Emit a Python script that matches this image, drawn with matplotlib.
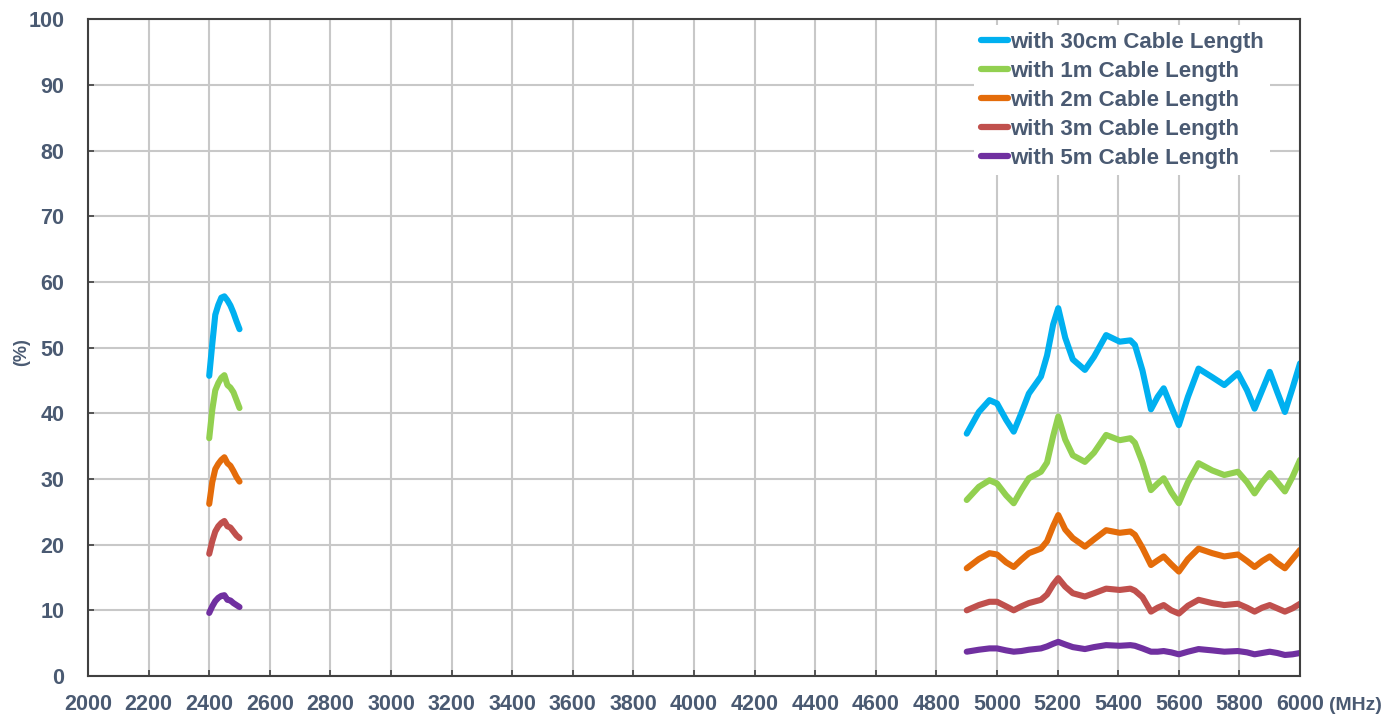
import numpy as np
import matplotlib.pyplot as plt

# Frequencies (MHz) for the 2.4 GHz band and the 5 GHz band
freq_24 = [2400, 2410, 2420, 2430, 2440, 2450, 2460, 2470, 2480, 2490, 2500]
freq_5 = [4900, 4940, 4975, 5000, 5030, 5055, 5080, 5105, 5145, 5165, 5185, 5202,
          5225, 5250, 5290, 5320, 5360, 5405, 5440, 5455, 5480, 5508, 5530, 5550,
          5575, 5600, 5630, 5665, 5710, 5750, 5795, 5825, 5850, 5875, 5900, 5925,
          5950, 5975, 6000]

# Efficiency (%) per cable length
cab30_24 = [45.7, 50.5, 55.0, 56.5, 57.6, 57.8, 57.2, 56.4, 55.3, 54.0, 52.8]
cab1_24 = [36.2, 40.5, 43.5, 44.6, 45.4, 45.8, 44.3, 43.9, 43.2, 42.0, 40.8]
cab2_24 = [26.2, 29.5, 31.5, 32.3, 32.9, 33.3, 32.4, 32.0, 31.2, 30.3, 29.6]
cab3_24 = [18.6, 20.5, 22.0, 22.8, 23.3, 23.6, 22.8, 22.6, 22.0, 21.4, 21.0]
cab5_24 = [9.6, 10.6, 11.4, 11.9, 12.2, 12.3, 11.6, 11.5, 11.1, 10.8, 10.5]

cab30_5 = [36.9, 40.2, 42.0, 41.5, 39.0, 37.2, 40.0, 43.0, 45.6, 48.8, 53.5, 56.0,
           51.5, 48.2, 46.6, 48.6, 51.9, 50.9, 51.1, 50.4, 46.5, 40.6, 42.5, 43.8,
           41.0, 38.2, 42.5, 46.8, 45.5, 44.3, 46.1, 43.5, 40.7, 43.5, 46.3, 43.2,
           40.2, 43.8, 47.6]
cab1_5 = [26.8, 28.8, 29.8, 29.3, 27.5, 26.3, 28.3, 30.1, 31.1, 32.5, 36.5, 39.5,
          36.0, 33.6, 32.6, 34.0, 36.7, 35.9, 36.2, 35.5, 32.5, 28.3, 29.3, 30.1,
          28.0, 26.3, 29.5, 32.4, 31.3, 30.6, 31.1, 29.5, 27.8, 29.5, 30.9, 29.5,
          28.1, 30.3, 32.9]
cab2_5 = [16.4, 17.8, 18.7, 18.5, 17.3, 16.6, 17.7, 18.7, 19.4, 20.5, 22.8, 24.5,
          22.3, 21.0, 19.7, 20.8, 22.2, 21.8, 22.0, 21.5, 19.5, 16.9, 17.6, 18.2,
          17.0, 15.9, 17.8, 19.4, 18.7, 18.2, 18.5, 17.5, 16.6, 17.5, 18.2, 17.2,
          16.4, 17.8, 19.2]
cab3_5 = [10.0, 10.8, 11.3, 11.3, 10.6, 10.0, 10.6, 11.1, 11.6, 12.4, 13.9, 14.9,
          13.6, 12.6, 12.1, 12.6, 13.3, 13.1, 13.3, 13.0, 12.0, 9.8, 10.4, 10.8,
          10.0, 9.5, 10.7, 11.6, 11.1, 10.8, 11.0, 10.4, 9.8, 10.4, 10.8, 10.3,
          9.8, 10.3, 11.0]
cab5_5 = [3.7, 4.0, 4.2, 4.2, 3.9, 3.7, 3.8, 4.0, 4.2, 4.5, 4.9, 5.2,
          4.8, 4.4, 4.1, 4.4, 4.7, 4.6, 4.7, 4.6, 4.2, 3.7, 3.7, 3.8,
          3.6, 3.3, 3.7, 4.1, 3.9, 3.7, 3.8, 3.6, 3.3, 3.5, 3.7, 3.5,
          3.2, 3.3, 3.5]

labels = ['with 30cm Cable Length', 'with 1m Cable Length', 'with 2m Cable Length',
          'with 3m Cable Length', 'with 5m Cable Length']
colors = ['#00B0F0', '#92D050', '#E46C0A', '#C0504D', '#7030A0']

series_24 = [cab30_24, cab1_24, cab2_24, cab3_24, cab5_24]
series_5 = [cab30_5, cab1_5, cab2_5, cab3_5, cab5_5]

txt_color = '#4A5A72'
font = ['Liberation Sans', 'DejaVu Sans']

fig = plt.figure(figsize=(13.97, 7.18), dpi=100)
ax = fig.add_axes([0.063, 0.0585, 0.8676, 0.9148])

for lab, col, y24, y5 in zip(labels, colors, series_24, series_5):
    ax.plot(freq_24, y24, color=col, lw=4.4, solid_capstyle='round',
            solid_joinstyle='round', label=lab)
    ax.plot(freq_5, y5, color=col, lw=4.4, solid_capstyle='round',
            solid_joinstyle='round')

ax.set_xlim(2000, 6000)
ax.set_ylim(0, 100)
ax.set_xticks(np.arange(2000, 6001, 200))
ax.set_yticks(np.arange(0, 101, 10))
ax.grid(True, color='#C8C8C8', lw=1.5)
ax.set_axisbelow(True)

for sp in ax.spines.values():
    sp.set_color('#404040')
    sp.set_linewidth(1.5)

ax.tick_params(axis='both', direction='in', length=4, width=1.2, color='#404040',
               labelcolor=txt_color)
ax.tick_params(axis='x', pad=13)
ax.tick_params(axis='y', pad=17)
for t in ax.get_xticklabels() + ax.get_yticklabels():
    t.set_family(font)
    t.set_fontweight('bold')
    t.set_fontsize(15.5)

fig.text(0.0155, 0.51, '(%)', rotation=90, ha='center', va='center',
         family=font, fontweight='bold', fontsize=13, color=txt_color)
fig.text(0.951, 0.0175, '(MHz)', ha='left', va='center',
         family=font, fontweight='bold', fontsize=14, color=txt_color)

leg = ax.legend(loc='upper left', bbox_to_anchor=(0.722, 1.008), frameon=True,
                handlelength=1.2, handletextpad=0.1, labelspacing=0.36,
                borderpad=0.3, prop={'family': font, 'weight': 'bold', 'size': 16})
leg.get_frame().set_facecolor('white')
leg.get_frame().set_edgecolor('none')
leg.get_frame().set_alpha(1)
for t in leg.get_texts():
    t.set_color(txt_color)
for h in leg.get_lines():
    h.set_linewidth(4.5)

fig.savefig('out.png', dpi=100)
